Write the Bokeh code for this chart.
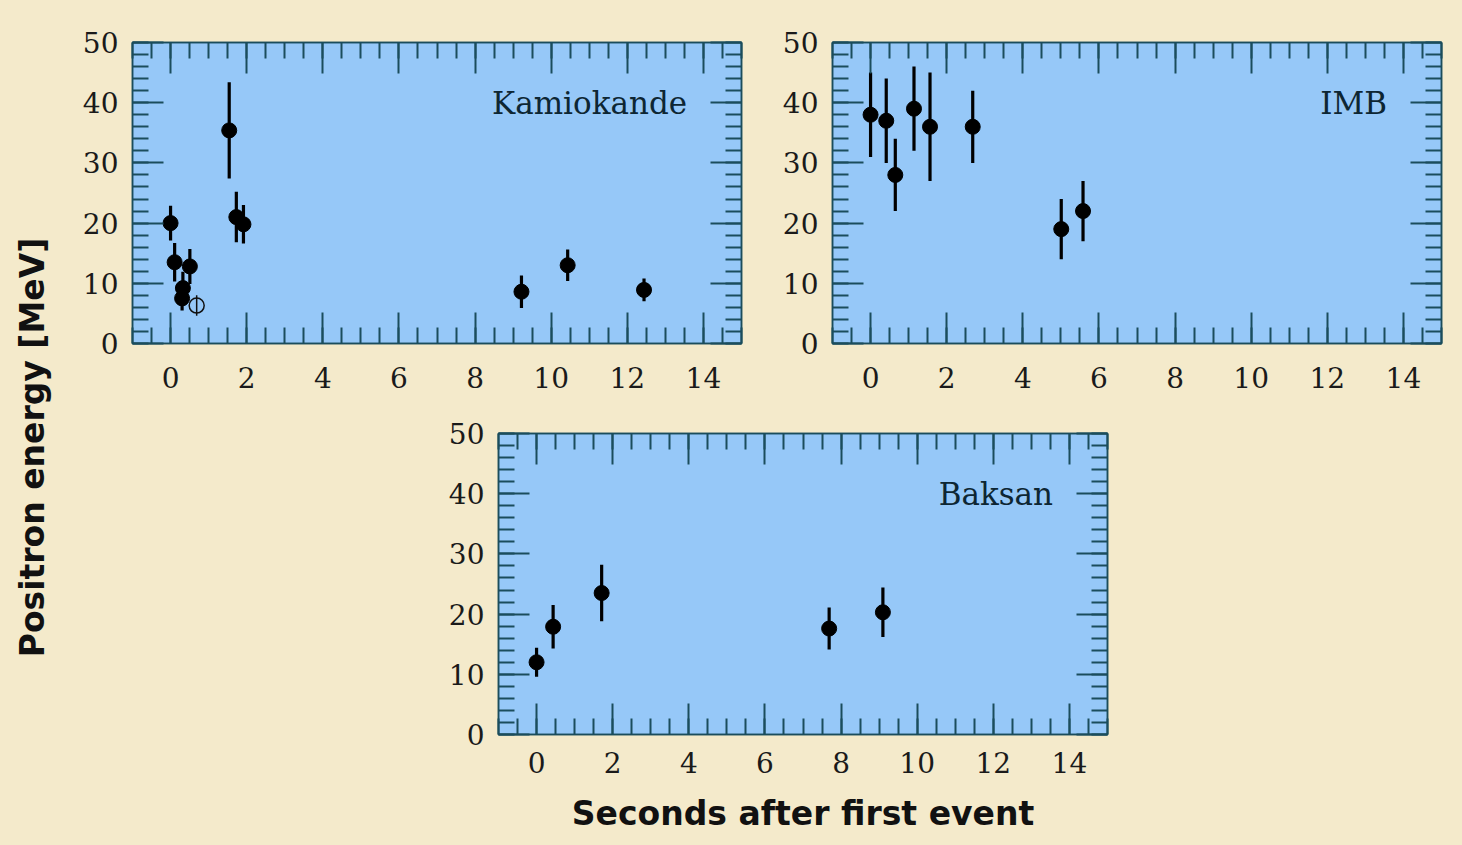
from math import pi
from bokeh.plotting import figure
from bokeh.models import (Range1d, LinearAxis, SingleIntervalTicker, Label, ColumnDataSource,
                          CustomJSTickFormatter)
from bokeh.layouts import row, column
from bokeh.embed import file_html
from bokeh.resources import INLINE

# ---- data (seconds after first event, positron energy [MeV], error) ----
kam_t = [0.000, 0.107, 0.303, 0.324, 0.507, 1.541, 1.728, 1.915, 9.219, 10.433, 12.439]
kam_e = [20.0, 13.5, 7.5, 9.2, 12.8, 35.4, 21.0, 19.8, 8.6, 13.0, 8.9]
kam_err = [2.9, 3.2, 2.0, 2.7, 2.9, 8.0, 4.2, 3.2, 2.7, 2.6, 1.9]
kam_bg_t = [0.686]
kam_bg_e = [6.3]
kam_bg_err = [1.7]

imb_t = [0.000, 0.412, 0.650, 1.141, 1.562, 2.684, 5.010, 5.582]
imb_e = [38.0, 37.0, 28.0, 39.0, 36.0, 36.0, 19.0, 22.0]
imb_err = [7.0, 7.0, 6.0, 7.0, 9.0, 6.0, 5.0, 5.0]

bak_t = [0.000, 0.435, 1.710, 7.687, 9.099]
bak_e = [12.0, 17.9, 23.5, 17.6, 20.3]
bak_err = [2.4, 3.6, 4.7, 3.5, 4.1]

panel_names = ["Kamiokande", "IMB", "Baksan"]
y_title = "Positron energy [MeV]"
x_title = "Seconds after first event"

BEIGE = "#F4EACB"
BLUE = "#96C8F8"
TICK = "#1b4d5c"
TXT = "#0d2633"


def src(t, e, err):
    return ColumnDataSource(dict(t=t, e=e,
                                 lo=[a - b for a, b in zip(e, err)],
                                 hi=[a + b for a, b in zip(e, err)]))


def style_axis(ax, show_labels):
    ax.major_tick_in = 31
    ax.major_tick_out = 0
    ax.minor_tick_in = 16
    ax.minor_tick_out = 0
    ax.major_tick_line_color = TICK
    ax.minor_tick_line_color = TICK
    ax.major_tick_line_width = 2
    ax.minor_tick_line_width = 2
    ax.axis_line_color = TICK
    ax.axis_line_width = 1.5
    if show_labels:
        ax.major_label_text_font = "DejaVu Serif"
        ax.major_label_text_font_size = "28px"
        ax.major_label_text_color = "#1a1a1a"
    else:
        ax.formatter = CustomJSTickFormatter(code="return ''")
        ax.major_label_text_font_size = "4px"
        ax.major_label_standoff = 0


def make_panel(name, t, e, err, borders, xstand, xlabel=None):
    l, r, tp, b = borders
    p = figure(frame_width=609, frame_height=301,
               x_range=Range1d(-1, 15), y_range=Range1d(0, 50),
               x_axis_location=None, y_axis_location=None,
               output_backend="svg", toolbar_location=None,
               min_border_left=l, min_border_right=r,
               min_border_top=tp, min_border_bottom=b)
    p.background_fill_color = BLUE
    p.border_fill_color = BEIGE
    p.outline_line_color = TICK
    p.outline_line_width = 1.5
    p.grid.visible = False
    for loc in ["below", "above"]:
        ax = LinearAxis(ticker=SingleIntervalTicker(interval=2, num_minor_ticks=4))
        style_axis(ax, loc == "below")
        if loc == "below":
            ax.major_label_standoff = xstand
            if xlabel:
                ax.axis_label = xlabel
                ax.axis_label_text_font = "DejaVu Sans"
                ax.axis_label_text_font_style = "bold"
                ax.axis_label_text_font_size = "33px"
                ax.axis_label_text_color = "#111111"
                ax.axis_label_standoff = 18
        p.add_layout(ax, loc)
    for loc in ["left", "right"]:
        ax = LinearAxis(ticker=SingleIntervalTicker(interval=10, num_minor_ticks=5))
        style_axis(ax, loc == "left")
        if loc == "left":
            ax.major_label_standoff = 14
        p.add_layout(ax, loc)

    s = src(t, e, err)
    p.segment(x0="t", y0="lo", x1="t", y1="hi", source=s, line_color="black", line_width=3.2)
    p.scatter("t", "e", source=s, size=15, fill_color="black", line_color="black")
    p.add_layout(Label(x=13.57, y=40, text=name, text_align="right", text_baseline="middle",
                       text_font="DejaVu Serif", text_font_size="31px", text_color=TXT))
    return p


p1 = make_panel(panel_names[0], kam_t, kam_e, kam_err, (62, 35, 42, 67), 23)
sb = src(kam_bg_t, kam_bg_e, kam_bg_err)
p1.segment(x0="t", y0="lo", x1="t", y1="hi", source=sb, line_color="#111111", line_width=1.5)
p1.scatter("t", "e", source=sb, size=15, fill_color=None, line_color="#111111", line_width=1.5)

p2 = make_panel(panel_names[1], imb_t, imb_e, imb_err, (56, 21, 42, 67), 23)
p3 = make_panel(panel_names[2], bak_t, bak_e, bak_err, (428, 355, 23, 111), 17, xlabel=x_title)

strip = figure(width=70, height=845, x_range=Range1d(0, 70), y_range=Range1d(0, 845),
               x_axis_location=None, y_axis_location=None,
               output_backend="svg", toolbar_location=None,
               min_border_left=0, min_border_right=0, min_border_top=0, min_border_bottom=0)
strip.background_fill_color = BEIGE
strip.border_fill_color = BEIGE
strip.outline_line_color = None
strip.grid.visible = False
strip.add_layout(Label(x=32, y=398, text=y_title, angle=pi / 2, text_align="center",
                       text_baseline="middle", text_font="DejaVu Sans", text_font_style="bold",
                       text_font_size="33px", text_color="#111111"))

bg = {"background-color": BEIGE}
layout = row(strip, column(row(p1, p2, styles=bg), p3, styles=bg), styles=bg)

open("out.html", "w").write(file_html(layout, INLINE))
